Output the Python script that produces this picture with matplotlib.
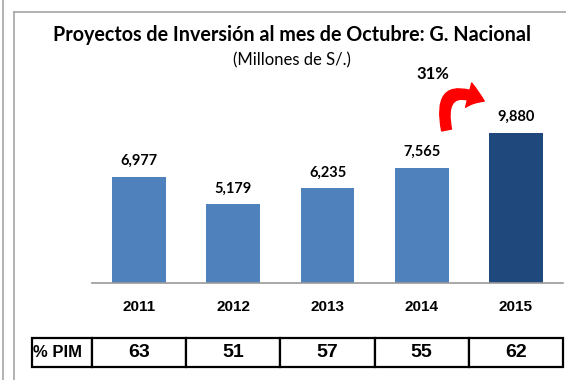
import matplotlib.pyplot as plt
from matplotlib.lines import Line2D
from matplotlib.patches import FancyArrowPatch

years = ['2011', '2012', '2013', '2014', '2015']
montos = [6977, 5179, 6235, 7565, 9880]
pim = ['63', '51', '57', '55', '62']
crecimiento = '31%'

W, H = 566, 380
fig = plt.figure(figsize=(W / 100, H / 100), dpi=100)
narrow = ['Liberation Sans Narrow', 'Liberation Sans']


def fx(px):
    return px / W


def fy(py):
    return 1 - py / H


# marco gris
frame = '#a6a6a6'
fig.add_artist(Line2D([fx(3), fx(3)], [0, 1], color=frame, lw=1.2))
fig.add_artist(Line2D([fx(13.5), fx(13.5)], [0, fy(12)], color=frame, lw=1.2))
fig.add_artist(Line2D([fx(13.5), 1], [fy(12), fy(12)], color=frame, lw=1.2))

fig.text(fx(292), fy(35), 'Proyectos de Inversión al mes de Octubre: G. Nacional',
         ha='center', va='center', fontsize=14.2, fontweight='bold', family='Lato')
fig.text(fx(292), fy(60), '(Millones de S/.)', ha='center', va='center',
         fontsize=12, family='Lato')

# barras
ax = fig.add_axes([fx(92), fy(283), fx(471), (283 - 12) / H])
colors = ['#4f81bd'] * 4 + ['#1f497d']
x = range(len(years))
bars = ax.bar(x, montos, width=0.57, color=colors)
ax.set_xlim(-0.5, 4.5)
ax.set_ylim(0, 271 / 0.01518)
for s in ['top', 'right', 'left']:
    ax.spines[s].set_visible(False)
ax.spines['bottom'].set_color('#9a9a9a')
ax.spines['bottom'].set_linewidth(1.2)
ax.set_yticks([])
ax.set_xticks(list(x))
ax.set_xticklabels(years, fontsize=11, fontweight='bold', family=narrow)
ax.tick_params(axis='x', length=0, pad=12)
for xi, v in zip(x, montos):
    ax.annotate(f'{v:,}', (xi, v), xytext=(0, 6.5), textcoords='offset points',
                ha='center', va='bottom', fontsize=10.5, fontweight='bold', family='Lato')

# flecha de crecimiento
arrow = FancyArrowPatch((3.27, 9900), (3.69, 11900), connectionstyle='arc3,rad=-1.05',
                        arrowstyle='simple,head_width=1.5,head_length=1.0,tail_width=0.6',
                        mutation_scale=12, color='#ff0000', clip_on=False)
ax.add_patch(arrow)
ax.text(3.12, 13800, crecimiento, ha='center', va='center', fontsize=12,
        fontweight='bold', family='Lato')

# tabla % PIM
tax = fig.add_axes([fx(32), fy(367), fx(540), (367 - 338) / H])
tax.axis('off')
widths = [60] + [94.2] * 5
total = sum(widths)
tab = tax.table(cellText=[['% PIM'] + pim], colWidths=[w / total for w in widths],
                cellLoc='center', bbox=[0, 0, total / 540, 1])
tab.auto_set_font_size(False)
for (r, c), cell in tab.get_celld().items():
    cell.set_linewidth(1.6)
    cell.set_edgecolor('black')
    cell.get_text().set_fontsize(14)
    cell.get_text().set_fontweight('bold')
    cell.get_text().set_family(narrow)
first = tab.get_celld()[(0, 0)]
first.get_text().set_fontsize(12)
first.get_text().set_horizontalalignment('left')
first.PAD = 0.02

fig.savefig('out.png', dpi=100)
